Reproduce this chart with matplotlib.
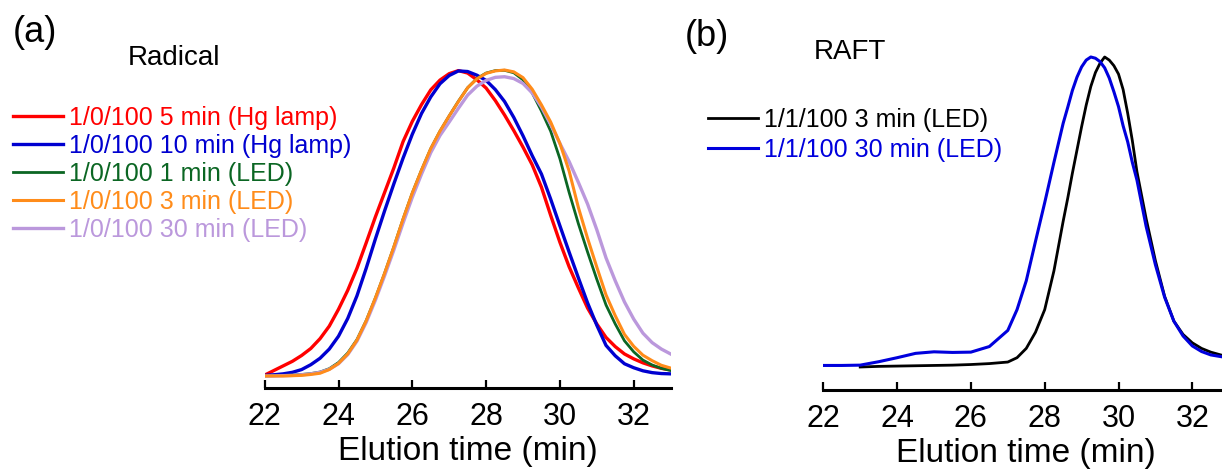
#!/usr/bin/env python3
"""
GPC traces: free radical vs RAFT photopolymerisation (normalised RI signal).
"""

import matplotlib
matplotlib.use("Agg")
import matplotlib.pyplot as plt
import numpy as np

plt.rcParams["font.family"] = ["Liberation Sans", "DejaVu Sans"]

# ── Panel (a): radical ───────────────────────────────────────────────────────
time_a = [22.0, 22.25, 22.5, 22.75, 23.0, 23.25, 23.5, 23.75, 24.0, 24.25, 24.5, 24.75,
          25.0, 25.25, 25.5, 25.75, 26.0, 26.25, 26.5, 26.75, 27.0, 27.25, 27.5, 27.75,
          28.0, 28.25, 28.5, 28.75, 29.0, 29.25, 29.5, 29.75, 30.0, 30.25, 30.5, 30.75,
          31.0, 31.25, 31.5, 31.75, 32.0, 32.25, 32.5, 32.75, 33.0]
hg_5min = [0.003, 0.018, 0.033, 0.048, 0.067, 0.090, 0.122, 0.163, 0.218, 0.280, 0.352, 0.435,
           0.520, 0.600, 0.680, 0.766, 0.832, 0.887, 0.935, 0.967, 0.988, 0.998, 0.990, 0.968,
           0.941, 0.900, 0.853, 0.802, 0.748, 0.690, 0.617, 0.525, 0.437, 0.357, 0.288, 0.222,
           0.170, 0.126, 0.096, 0.072, 0.056, 0.043, 0.033, 0.025, 0.020]
hg_10min = [0.002, 0.004, 0.007, 0.012, 0.021, 0.037, 0.058, 0.088, 0.130, 0.188, 0.262, 0.352,
            0.448, 0.540, 0.628, 0.712, 0.790, 0.858, 0.912, 0.955, 0.982, 0.997, 0.995, 0.983,
            0.966, 0.936, 0.897, 0.845, 0.785, 0.720, 0.660, 0.578, 0.491, 0.405, 0.321, 0.239,
            0.166, 0.100, 0.066, 0.040, 0.027, 0.017, 0.011, 0.008, 0.007]
led_1min = [0.000, 0.001, 0.002, 0.003, 0.005, 0.008, 0.013, 0.024, 0.044, 0.075, 0.119, 0.181,
            0.255, 0.336, 0.422, 0.513, 0.598, 0.673, 0.743, 0.800, 0.850, 0.898, 0.942, 0.972,
            0.990, 0.998, 0.999, 0.991, 0.968, 0.925, 0.866, 0.800, 0.710, 0.600, 0.498, 0.405,
            0.316, 0.232, 0.170, 0.115, 0.079, 0.052, 0.036, 0.025, 0.018]
led_3min = [0.000, 0.000, 0.000, 0.001, 0.002, 0.005, 0.009, 0.021, 0.041, 0.072, 0.117, 0.180,
            0.255, 0.336, 0.422, 0.513, 0.598, 0.673, 0.743, 0.800, 0.850, 0.897, 0.942, 0.971,
            0.989, 0.997, 1.000, 0.994, 0.975, 0.937, 0.886, 0.830, 0.760, 0.670, 0.551, 0.450,
            0.356, 0.265, 0.197, 0.136, 0.097, 0.068, 0.050, 0.035, 0.026]
led_30min = [0.000, 0.000, 0.001, 0.002, 0.004, 0.007, 0.012, 0.022, 0.040, 0.070, 0.114, 0.175,
             0.248, 0.328, 0.412, 0.500, 0.584, 0.660, 0.730, 0.786, 0.830, 0.875, 0.918, 0.947,
             0.966, 0.976, 0.978, 0.972, 0.956, 0.925, 0.879, 0.822, 0.760, 0.701, 0.633, 0.562,
             0.478, 0.386, 0.311, 0.242, 0.186, 0.140, 0.109, 0.088, 0.072]
labels_a = ["1/0/100 5 min (Hg lamp)", "1/0/100 10 min (Hg lamp)", "1/0/100 1 min (LED)",
            "1/0/100 3 min (LED)", "1/0/100 30 min (LED)"]

# ── Panel (b): RAFT ──────────────────────────────────────────────────────────
time_b = [22.0, 22.5, 23.0, 23.5, 24.0, 24.5, 25.0, 25.5, 26.0, 26.5, 27.0,
          27.25, 27.5, 27.75, 28.0, 28.25, 28.5,
          28.625, 28.75, 28.875, 29.0, 29.125, 29.25, 29.375, 29.5, 29.625, 29.75,
          29.875, 30.0, 30.125, 30.25, 30.375, 30.5,
          30.75, 31.0, 31.25, 31.5, 31.75, 32.0, 32.25, 32.5, 32.8]
raft_3min = [np.nan, np.nan, 0.000, 0.002, 0.003, 0.004, 0.005, 0.006, 0.008, 0.011, 0.016,
             0.030, 0.060, 0.112, 0.185, 0.310, 0.470,
             0.545, 0.625, 0.700, 0.775, 0.845, 0.905, 0.950, 0.980, 1.000, 0.990,
             0.972, 0.945, 0.895, 0.818, 0.730, 0.630,
             0.478, 0.343, 0.228, 0.148, 0.105, 0.078, 0.060, 0.048, 0.038]
raft_30min = [0.005, 0.005, 0.006, 0.017, 0.030, 0.044, 0.049, 0.047, 0.048, 0.066, 0.118,
              0.185, 0.278, 0.405, 0.530, 0.660, 0.786,
              0.838, 0.892, 0.935, 0.968, 0.990, 1.000, 0.996, 0.985, 0.965, 0.932,
              0.888, 0.840, 0.778, 0.726, 0.660, 0.603,
              0.453, 0.330, 0.225, 0.148, 0.100, 0.068, 0.050, 0.039, 0.033]
labels_b = ["1/1/100 3 min (LED)", "1/1/100 30 min (LED)"]

ticks = [22, 24, 26, 28, 30, 32]

W, H = 1222, 469
fig = plt.figure(figsize=(W / 100, H / 100), dpi=100)


def px(x0, y0, x1, y1):
    """Pixel box (left, top, right, bottom) -> figure fraction rect."""
    return [x0 / W, 1 - y1 / H, (x1 - x0) / W, (y1 - y0) / H]


def style_axis(ax):
    for s in ("left", "right", "top"):
        ax.spines[s].set_visible(False)
    ax.spines["bottom"].set_linewidth(2.2)
    ax.set_yticks([])
    ax.set_xticks(ticks)
    ax.tick_params(axis="x", direction="in", length=6, width=1.6, labelsize=22, pad=10)
    ax.set_xlabel("Elution time (min)", fontsize=24, labelpad=3)


# ── (a) ──────────────────────────────────────────────────────────────────────
ax1 = fig.add_axes(px(264.7, 40, 670.6, 388))
series_a = [hg_5min, hg_10min, led_1min, led_3min, led_30min]
colors_a = ["#ff0000", "#0000d0", "#0b6623", "#ff8c1a", "#bb98dc"]
widths_a = [2.4, 2.4, 2.0, 2.2, 2.4]
lines_a = []
for i, ys in enumerate(series_a):
    z = {3: 6, 4: 5}.get(i, 2 + i)
    ln, = ax1.plot(time_a, ys, color=colors_a[i], lw=widths_a[i], zorder=z)
    lines_a.append(ln)
ax1.set_xlim(22, 33)
ax1.set_ylim((376 - 388) / 306, (376 - 40) / 306)
style_axis(ax1)
ax1.legend(lines_a, labels_a, loc="upper left", bbox_to_anchor=(13 / W, 1 - 106 / H),
           bbox_transform=fig.transFigure, frameon=False, labelcolor="linecolor",
           fontsize=18, handlelength=2.0, handletextpad=0.25, labelspacing=0.16,
           borderpad=0, borderaxespad=0)

fig.text(35 / W, 1 - 32 / H, "(a)", fontsize=26, ha="center", va="center")
fig.text(174 / W, 1 - 58 / H, "Radical", fontsize=20, ha="center", va="center")

# ── (b) ──────────────────────────────────────────────────────────────────────
ax2 = fig.add_axes(px(823.3, 40, 1229.2, 390))
lb1, = ax2.plot(time_b, raft_3min, color="black", lw=2.0)
lb2, = ax2.plot(time_b, raft_30min, color="#0000dd", lw=2.2)
ax2.set_xlim(22, 33)
ax2.set_ylim((367 - 390) / 310, (367 - 40) / 310)
style_axis(ax2)
ax2.legend([lb1, lb2], labels_b, loc="upper left", bbox_to_anchor=(708 / W, 1 - 108 / H),
           bbox_transform=fig.transFigure, frameon=False, labelcolor="linecolor",
           fontsize=18, handlelength=2.0, handletextpad=0.25, labelspacing=0.23,
           borderpad=0, borderaxespad=0)

fig.text(707 / W, 1 - 37 / H, "(b)", fontsize=26, ha="center", va="center")
fig.text(850 / W, 1 - 52 / H, "RAFT", fontsize=20, ha="center", va="center")

fig.savefig("out.png", dpi=100)
plt.close(fig)
